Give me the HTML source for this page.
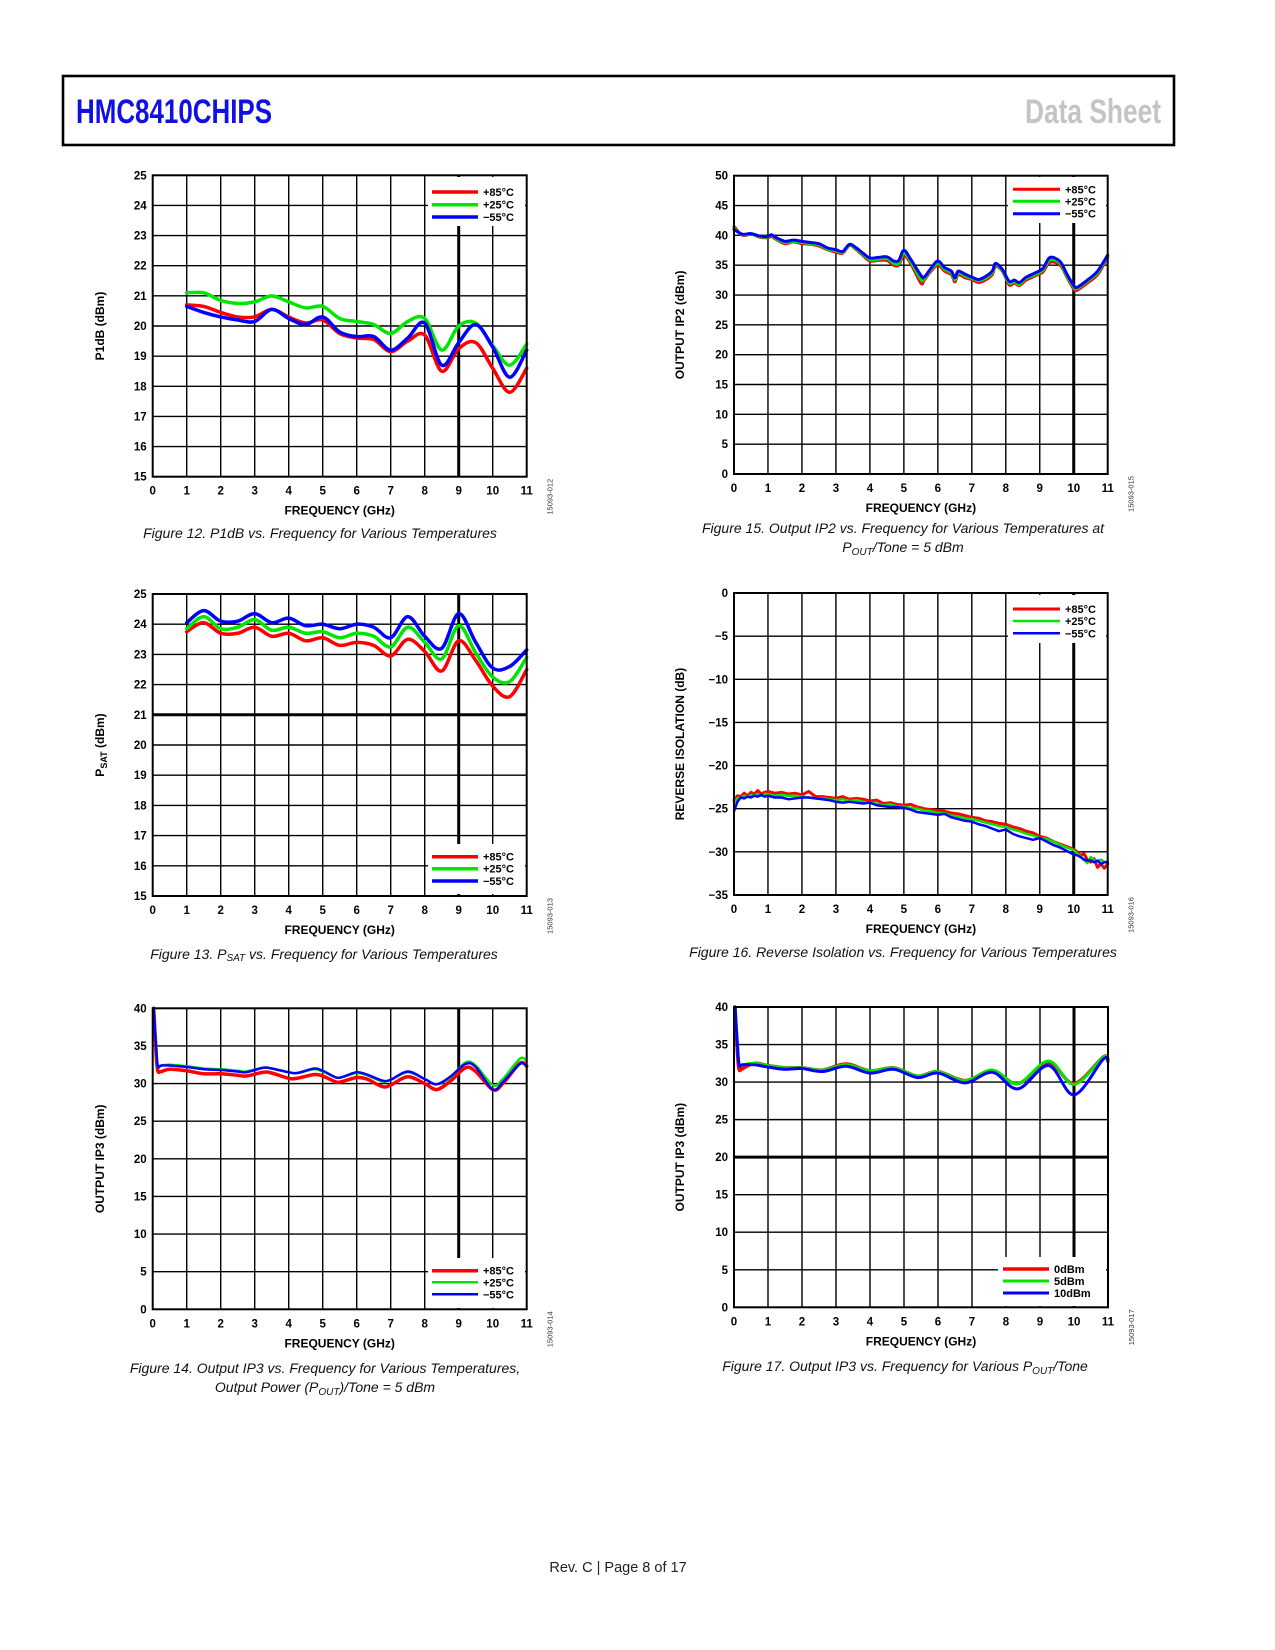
<!DOCTYPE html>
<html><head><meta charset="utf-8"><style>
html,body{margin:0;padding:0;background:#fff;}
svg{display:block;}
text{font-family:"Liberation Sans",sans-serif;}
</style></head><body>
<svg id="page" width="1275" height="1650" viewBox="0 0 1275 1650" xmlns="http://www.w3.org/2000/svg">
<rect x="63" y="76" width="1111" height="69" fill="#fff" stroke="#000" stroke-width="2.6"/>
<text x="76" y="123" font-size="34" font-weight="bold" fill="#1010e6" textLength="196" lengthAdjust="spacingAndGlyphs">HMC8410CHIPS</text>
<text x="1161" y="123" font-size="34" font-weight="bold" fill="#c4c4c4" text-anchor="end" textLength="136" lengthAdjust="spacingAndGlyphs">Data Sheet</text>
<text x="618" y="1572" font-size="14.5" text-anchor="middle" fill="#222">Rev. C | Page 8 of 17</text>
<g id="charts"></g>
</svg>
<script>
// ---------- Figure 12: P1dB ----------
const p1dbFreq = [1,1.5,2,2.5,3,3.5,4,4.5,5,5.5,6,6.5,7,7.5,8,8.5,9,9.5,10,10.5,11];
const p1dbHot  = [20.7,20.65,20.45,20.3,20.3,20.55,20.3,20.1,20.2,19.75,19.6,19.55,19.15,19.5,19.7,18.5,19.25,19.45,18.6,17.8,18.6];
const p1dbRoom = [21.1,21.1,20.85,20.75,20.8,21.0,20.8,20.6,20.65,20.25,20.15,20.05,19.75,20.15,20.25,19.2,20.0,20.1,19.35,18.7,19.4];
const p1dbCold = [20.65,20.45,20.3,20.2,20.15,20.55,20.25,20.05,20.3,19.8,19.65,19.65,19.2,19.6,20.1,18.7,19.45,20.05,19.3,18.3,19.2];
const p1dbTicks = [15,16,17,18,19,20,21,22,23,24,25];

// ---------- Figure 13: PSAT ----------
const psatFreq = [1,1.5,2,2.5,3,3.5,4,4.5,5,5.5,6,6.5,7,7.5,8,8.5,9,9.5,10,10.5,11];
const psatHot  = [23.75,24.05,23.7,23.7,23.9,23.6,23.7,23.45,23.55,23.3,23.4,23.3,22.95,23.5,23.1,22.45,23.45,22.8,21.95,21.6,22.5];
const psatRoom = [23.85,24.25,23.85,23.9,24.15,23.8,23.9,23.7,23.75,23.55,23.7,23.6,23.25,23.9,23.4,22.85,23.95,23.05,22.25,22.1,22.9];
const psatCold = [24.05,24.45,24.1,24.1,24.35,24.05,24.2,23.95,24.0,23.85,24.0,23.9,23.55,24.25,23.6,23.2,24.35,23.4,22.55,22.6,23.15];
const psatTicks = [15,16,17,18,19,20,21,22,23,24,25];

// ---------- Figure 14: OIP3 vs temperature ----------
const oip3tFreq = [0.03,0.1,0.15,0.25,0.5,1,1.5,2,2.5,2.75,3.25,3.5,4,4.25,4.75,5,5.4,5.6,6,6.3,6.75,7,7.5,8,8.35,8.75,9.2,9.5,10,10.3,10.8,11];
const oip3tHot  = [40,34,31.7,31.6,31.9,31.7,31.3,31.3,31.1,31.0,31.5,31.4,30.7,30.7,31.2,31.0,30.2,30.3,30.8,30.6,29.6,29.8,30.9,30.0,29.2,30.3,32.1,31.6,29.2,30.0,32.7,32.3];
const oip3tRoom = [40,35,32.3,32.4,32.5,32.3,32.0,31.9,31.7,31.6,32.1,32.0,31.5,31.4,31.9,31.6,30.8,30.9,31.4,31.1,30.3,30.5,31.5,30.6,29.9,30.8,32.8,32.4,29.8,30.6,33.3,33.0];
const oip3tCold = [40,35,32.3,32.4,32.4,32.2,31.9,31.8,31.6,31.5,32.1,32.0,31.5,31.4,32.0,31.7,30.8,30.9,31.5,31.2,30.4,30.5,31.6,30.6,29.9,30.9,32.6,32.2,29.2,30.2,32.6,32.3];
const oip3Ticks = [0,5,10,15,20,25,30,35,40];

// ---------- Figure 15: OIP2 ----------
const oip2Freq = [0,0.25,0.5,0.75,1,1.1,1.25,1.5,1.75,2,2.25,2.5,2.75,3,3.2,3.4,3.6,3.8,4,4.25,4.5,4.7,4.85,5,5.2,5.5,5.6,5.8,6,6.2,6.4,6.5,6.6,6.8,7,7.2,7.4,7.6,7.7,7.9,8.1,8.25,8.4,8.6,8.9,9.1,9.3,9.6,9.8,10,10.1,10.4,10.7,11];
const oip2Hot  = [41.5,40.0,40.2,39.7,39.6,39.8,39.3,38.6,38.9,38.6,38.5,38.2,37.6,37.2,37.0,38.3,37.6,36.6,35.7,35.8,35.8,35.0,35.0,36.6,35.3,32.0,32.5,34.0,35.0,34.0,33.4,32.2,33.4,32.9,32.6,32.1,32.5,33.4,34.8,34.0,31.7,32.0,31.6,32.5,33.3,33.9,35.5,35.0,33.0,31.0,30.8,32.0,33.4,36.3];
const oip2Room = [41.2,40.1,40.2,39.8,39.7,40.0,39.4,38.8,39.0,38.8,38.6,38.4,37.7,37.4,37.1,38.4,37.7,36.8,35.9,36.0,36.1,35.3,35.3,37.0,35.6,32.6,32.7,34.2,35.3,34.3,33.7,32.5,33.7,33.2,32.8,32.4,32.8,33.7,35.0,34.1,32.0,32.2,31.8,32.8,33.5,34.2,35.9,35.3,33.2,31.3,31.1,32.3,33.7,36.5];
const oip2Cold = [41.0,40.2,40.3,39.9,39.8,40.1,39.6,39.0,39.2,39.0,38.8,38.6,37.9,37.6,37.3,38.5,37.9,37.0,36.2,36.3,36.4,35.7,35.8,37.5,36.0,33.3,33.0,34.5,35.7,34.6,34.0,32.9,34.0,33.5,33.0,32.6,33.1,34.0,35.3,34.3,32.3,32.5,32.1,33.0,33.8,34.5,36.3,35.6,33.5,31.6,31.3,32.5,34.0,36.7];
const oip2Ticks = [0,5,10,15,20,25,30,35,40,45,50];

// ---------- Figure 16: Reverse isolation ----------
const risoFreq = [0,0.1,0.2,0.3,0.4,0.5,0.6,0.7,0.8,0.9,1,1.2,1.4,1.6,1.8,2,2.2,2.4,2.6,2.8,3,3.2,3.4,3.6,3.8,4,4.2,4.4,4.6,4.8,5,5.2,5.4,5.6,5.8,6,6.2,6.4,6.6,6.8,7,7.2,7.4,7.6,7.8,8,8.2,8.4,8.6,8.8,9,9.2,9.4,9.6,9.8,10,10.1,10.2,10.3,10.4,10.5,10.6,10.7,10.8,10.9,11];
const risoHot  = [-24.0,-23.5,-23.6,-23.2,-23.5,-23.1,-23.3,-22.9,-23.3,-23.1,-23.0,-23.2,-23.1,-23.3,-23.2,-23.4,-23.0,-23.6,-23.6,-23.7,-23.8,-23.6,-23.9,-23.8,-23.9,-24.1,-24.0,-24.4,-24.3,-24.5,-24.6,-24.5,-24.8,-25.0,-25.1,-25.2,-25.3,-25.5,-25.6,-25.8,-26.0,-26.1,-26.4,-26.5,-26.7,-26.8,-27.1,-27.3,-27.6,-27.8,-28.2,-28.4,-28.8,-29.1,-29.4,-29.7,-30.0,-30.4,-30.2,-30.9,-31.2,-30.8,-31.8,-31.4,-31.9,-31.4];
const risoRoom = [-24.3,-23.8,-23.7,-23.5,-23.6,-23.4,-23.5,-23.3,-23.5,-23.3,-23.3,-23.5,-23.4,-23.5,-23.5,-23.6,-23.7,-23.8,-23.8,-23.9,-24.0,-23.9,-24.1,-24.0,-24.2,-24.3,-24.4,-24.6,-24.5,-24.7,-24.8,-24.9,-25.0,-25.2,-25.3,-25.5,-25.5,-25.8,-25.9,-26.1,-26.2,-26.4,-26.6,-26.8,-27.0,-27.1,-27.4,-27.6,-27.9,-28.1,-28.4,-28.5,-28.8,-29.2,-29.5,-29.8,-30.2,-30.5,-30.9,-31.3,-30.6,-31.0,-31.1,-30.9,-31.2,-31.1];
const risoCold = [-25.3,-24.2,-23.7,-23.8,-23.6,-23.7,-23.5,-23.6,-23.4,-23.6,-23.5,-23.7,-23.7,-23.9,-23.8,-23.7,-23.7,-23.8,-23.9,-24.0,-24.2,-24.3,-24.2,-24.3,-24.4,-24.3,-24.6,-24.7,-24.8,-24.8,-24.9,-25.1,-25.4,-25.5,-25.6,-25.7,-25.6,-26.0,-26.2,-26.4,-26.5,-26.8,-27.0,-27.3,-27.6,-27.4,-27.9,-28.2,-28.4,-28.6,-28.4,-28.8,-29.2,-29.5,-29.9,-30.3,-30.4,-30.6,-30.9,-31.0,-31.0,-31.2,-31.0,-31.4,-31.2,-31.2];
const risoTicks = [-35,-30,-25,-20,-15,-10,-5,0];

// ---------- Figure 17: OIP3 vs Pout ----------
const oip3pFreq = [0.03,0.1,0.15,0.25,0.6,1,1.5,2,2.6,3.3,4,4.7,5.4,6,6.8,7.6,8.35,9.25,10,10.85,11];
const oip3p0  = [40,34,31.7,31.8,32.5,32.2,31.9,31.9,31.6,32.4,31.5,31.9,30.8,31.4,30.2,31.5,29.8,32.6,29.8,33.3,33.0];
const oip3p5  = [40,35,32.3,32.3,32.5,32.2,31.9,31.9,31.6,32.3,31.5,31.9,30.8,31.4,30.2,31.6,29.8,32.8,29.7,33.3,33.0];
const oip3p10 = [40,35,32.3,32.3,32.3,32.0,31.7,31.8,31.4,32.1,31.2,31.7,30.6,31.2,29.9,31.3,29.1,32.2,28.3,33.0,32.7];
const xTicks = [0,1,2,3,4,5,6,7,8,9,10,11];

const NS = 'http://www.w3.org/2000/svg';
const root = document.getElementById('charts');
function mk(tag, attrs, parent){
  const e = document.createElementNS(NS, tag);
  for (const k in attrs) e.setAttribute(k, attrs[k]);
  (parent||root).appendChild(e);
  return e;
}
function smoothPath(pts){
  let d = 'M' + pts[0][0].toFixed(2) + ' ' + pts[0][1].toFixed(2);
  for (let i=0;i<pts.length-1;i++){
    const p0 = pts[Math.max(0,i-1)], p1 = pts[i], p2 = pts[i+1], p3 = pts[Math.min(pts.length-1,i+2)];
    const c1x = p1[0]+(p2[0]-p0[0])/6, c1y = p1[1]+(p2[1]-p0[1])/6;
    const c2x = p2[0]-(p3[0]-p1[0])/6, c2y = p2[1]-(p3[1]-p1[1])/6;
    d += ' C'+c1x.toFixed(2)+' '+c1y.toFixed(2)+' '+c2x.toFixed(2)+' '+c2y.toFixed(2)+' '+p2[0].toFixed(2)+' '+p2[1].toFixed(2);
  }
  return d;
}
function linePath(pts){ return pts.map((p,i)=>(i?'L':'M')+p[0].toFixed(2)+' '+p[1].toFixed(2)).join(' '); }

function drawChart(c){
  const g = mk('g', {});
  
  
  const xs = v => c.L + (v - 0) / 11 * (c.R - c.L);
  const ys = v => c.B - (v - c.ymin) / (c.ymax - c.ymin) * (c.B - c.T);
  const grid = mk('g', {}, g);
  
  
  xTicks.forEach(t => {
    if (t===0 || t===11) return;
    const w = (t===c.thickX) ? 3 : 1.4;
    const ln = mk('line', {x1:xs(t), x2:xs(t), y1:c.T, y2:c.B, stroke:'#000', 'stroke-width':w}, grid);
    
    
  });
  c.yTicks.forEach(t => {
    if (t===c.ymin || t===c.ymax) return;
    const w = (t===c.thickY) ? 3 : 1.4;
    const ln = mk('line', {x1:c.L, x2:c.R, y1:ys(t), y2:ys(t), stroke:'#000', 'stroke-width':w}, grid);
    
    
  });
  const lg = c.legend;
  const bg = mk('rect', {x:lg.bx, y:lg.by, width:lg.bw, height:lg.bh, fill:'#fff'}, g);
  
  
  c.series.forEach(s => {
    const pts = s.x.map((f,i)=>[xs(f), ys(s.y[i])]);
    const p = mk('path', {d: c.noisy ? linePath(pts) : smoothPath(pts), fill:'none', stroke:s.color, 'stroke-width':s.w, 'stroke-linejoin':'round', 'stroke-linecap':'round'}, g);
    
    
  });
  const fr = mk('rect', {x:c.L, y:c.T, width:c.R-c.L, height:c.B-c.T, fill:'none', stroke:'#000', 'stroke-width':2}, g);
  
  
  c.series.forEach((s,i) => {
    const y = lg.rows[i];
    const ln = mk('line', {x1:lg.lx1, x2:lg.lx2, y1:y, y2:y, stroke:s.color, 'stroke-width':s.w}, g);
    
    
    const t = mk('text', {x:lg.tx, y:y+4, 'font-size':11, 'font-weight':'bold'}, g);
    t.textContent = s.label;
    
    
  });
  xTicks.forEach(t => {
    const tx = mk('text', {x:xs(t), y:c.B+18, 'font-size':11.5, 'font-weight':'bold', 'text-anchor':'middle'}, g);
    tx.textContent = t;
    
    
  });
  c.yTicks.forEach(t => {
    const tx = mk('text', {x:c.L-6, y:ys(t)+4, 'font-size':11.5, 'font-weight':'bold', 'text-anchor':'end'}, g);
    tx.textContent = (t<0 ? '\u2212'+Math.abs(t) : t);
    
    
  });
  const xt = mk('text', {x:(c.L+c.R)/2, y:c.B+38, 'font-size':12, 'font-weight':'bold', 'text-anchor':'middle'}, g);
  xt.textContent = 'FREQUENCY (GHz)';
  
  
  const ymid = (c.T+c.B)/2;
  const yt = mk('text', {x:c.ytx, y:ymid, 'font-size':12, 'font-weight':'bold', 'text-anchor':'middle', transform:'rotate(-90 '+c.ytx+' '+ymid+')'}, g);
  yt.innerHTML = c.ytitle;
  
  
  const idx = c.R + 26, idy = c.B + 20;
  const id = mk('text', {x:idx, y:idy, 'font-size':7.5, 'text-anchor':'middle', fill:'#333', transform:'rotate(-90 '+idx+' '+idy+')'}, g);
  id.textContent = c.figId;
  
  
  c.caption.forEach((line,i) => {
    const cp = mk('text', {x:c.capX, y:c.capY + i*19, 'font-size':14, 'font-style':'italic', 'text-anchor':'middle', fill:'#111'}, g);
    cp.innerHTML = line;
    
    
  });
}
const RED='#ff0000', GRN='#00e600', BLU='#0000ff';
const tempLabels = ['+85\u00B0C','+25\u00B0C','\u221255\u00B0C'];
const legL = {bx:428,bw:97,lx1:432,lx2:478,tx:483};
const legR = {bx:1008,bw:98,lx1:1013,lx2:1060,tx:1065};

drawChart({name:'chart-p1db', L:152.7,R:526.7,T:175.3,B:476.7, ymin:15,ymax:25, yTicks:p1dbTicks, thickX:9,
  ytx:104, ytitle:'P1dB (dBm)', figId:'15093-012', capX:320, capY:538,
  caption:['Figure 12. P1dB vs. Frequency for Various Temperatures'],
  legend:Object.assign({by:177,bh:49,rows:[192,204.7,217]},legL),
  series:[{id:'p1db-85c',label:tempLabels[0],color:RED,w:3.5,x:p1dbFreq,y:p1dbHot},
          {id:'p1db-25c',label:tempLabels[1],color:GRN,w:3.5,x:p1dbFreq,y:p1dbRoom},
          {id:'p1db-m55c',label:tempLabels[2],color:BLU,w:3.5,x:p1dbFreq,y:p1dbCold}]});

drawChart({name:'chart-oip2', L:734,R:1107.7,T:175.7,B:474, ymin:0,ymax:50, yTicks:oip2Ticks, thickX:10,
  ytx:684, ytitle:'OUTPUT IP2 (dBm)', figId:'15093-015', capX:903, capY:533,
  caption:['Figure 15. Output IP2 vs. Frequency for Various Temperatures at','P<tspan font-size="10" dy="3">OUT</tspan><tspan dy="-3">/Tone = 5 dBm</tspan>'],
  legend:Object.assign({by:177,bh:46,rows:[189.3,201.3,213.7]},legR),
  series:[{id:'oip2-85c',label:tempLabels[0],color:RED,w:3,x:oip2Freq,y:oip2Hot},
          {id:'oip2-25c',label:tempLabels[1],color:GRN,w:3,x:oip2Freq,y:oip2Room},
          {id:'oip2-m55c',label:tempLabels[2],color:BLU,w:3,x:oip2Freq,y:oip2Cold}]});

drawChart({name:'chart-psat', L:152.7,R:526.7,T:594,B:896, ymin:15,ymax:25, yTicks:psatTicks, thickX:9, thickY:21,
  ytx:104, ytitle:'P<tspan font-size="9" dy="3">SAT</tspan><tspan dy="-3"> (dBm)</tspan>', figId:'15093-013', capX:324, capY:959,
  caption:['Figure 13. P<tspan font-size="10" dy="2">SAT</tspan><tspan dy="-2"> vs. Frequency for Various Temperatures</tspan>'],
  legend:Object.assign({by:844,bh:50,rows:[856.7,868.7,881]},legL),
  series:[{id:'psat-85c',label:tempLabels[0],color:RED,w:3.5,x:psatFreq,y:psatHot},
          {id:'psat-25c',label:tempLabels[1],color:GRN,w:3.5,x:psatFreq,y:psatRoom},
          {id:'psat-m55c',label:tempLabels[2],color:BLU,w:3.5,x:psatFreq,y:psatCold}]});

drawChart({name:'chart-reverse-isolation', L:734,R:1107.7,T:593,B:895, ymin:-35,ymax:0, yTicks:risoTicks, thickX:10, noisy:true,
  ytx:684, ytitle:'REVERSE ISOLATION (dB)', figId:'15093-016', capX:903, capY:957,
  caption:['Figure 16. Reverse Isolation vs. Frequency for Various Temperatures'],
  legend:Object.assign({by:595,bh:48,rows:[609,621,633.3]},legR),
  series:[{id:'riso-85c',label:tempLabels[0],color:RED,w:3,x:risoFreq,y:risoHot},
          {id:'riso-25c',label:tempLabels[1],color:GRN,w:2.5,x:risoFreq,y:risoRoom},
          {id:'riso-m55c',label:tempLabels[2],color:BLU,w:2.5,x:risoFreq,y:risoCold}]});

drawChart({name:'chart-oip3-temp', L:152.7,R:526.7,T:1008.3,B:1309.3, ymin:0,ymax:40, yTicks:oip3Ticks, thickX:9,
  ytx:104, ytitle:'OUTPUT IP3 (dBm)', figId:'15093-014', capX:325, capY:1373,
  caption:['Figure 14. Output IP3 vs. Frequency for Various Temperatures,','Output Power (P<tspan font-size="10" dy="3">OUT</tspan><tspan dy="-3">)/Tone = 5 dBm</tspan>'],
  legend:Object.assign({by:1258,bh:50,rows:[1270.7,1282.3,1294.3]},legL),
  series:[{id:'oip3-85c',label:tempLabels[0],color:RED,w:3.5,x:oip3tFreq,y:oip3tHot},
          {id:'oip3-25c',label:tempLabels[1],color:GRN,w:2.5,x:oip3tFreq,y:oip3tRoom},
          {id:'oip3-m55c',label:tempLabels[2],color:BLU,w:2.5,x:oip3tFreq,y:oip3tCold}]});

drawChart({name:'chart-oip3-pout', L:734,R:1108,T:1007,B:1307.3, ymin:0,ymax:40, yTicks:oip3Ticks, thickX:10, thickY:20,
  ytx:684, ytitle:'OUTPUT IP3 (dBm)', figId:'15093-017', capX:905, capY:1371,
  caption:['Figure 17. Output IP3 vs. Frequency for Various P<tspan font-size="10" dy="3">OUT</tspan><tspan dy="-3">/Tone</tspan>'],
  legend:{bx:998,bw:108,by:1257,bh:49,lx1:1003,lx2:1049,tx:1054,rows:[1269,1281,1293]},
  series:[{id:'oip3-0dbm',label:'0dBm',color:RED,w:3.5,x:oip3pFreq,y:oip3p0},
          {id:'oip3-5dbm',label:'5dBm',color:GRN,w:3,x:oip3pFreq,y:oip3p5},
          {id:'oip3-10dbm',label:'10dBm',color:BLU,w:3,x:oip3pFreq,y:oip3p10}]});
</script>
</body></html>
